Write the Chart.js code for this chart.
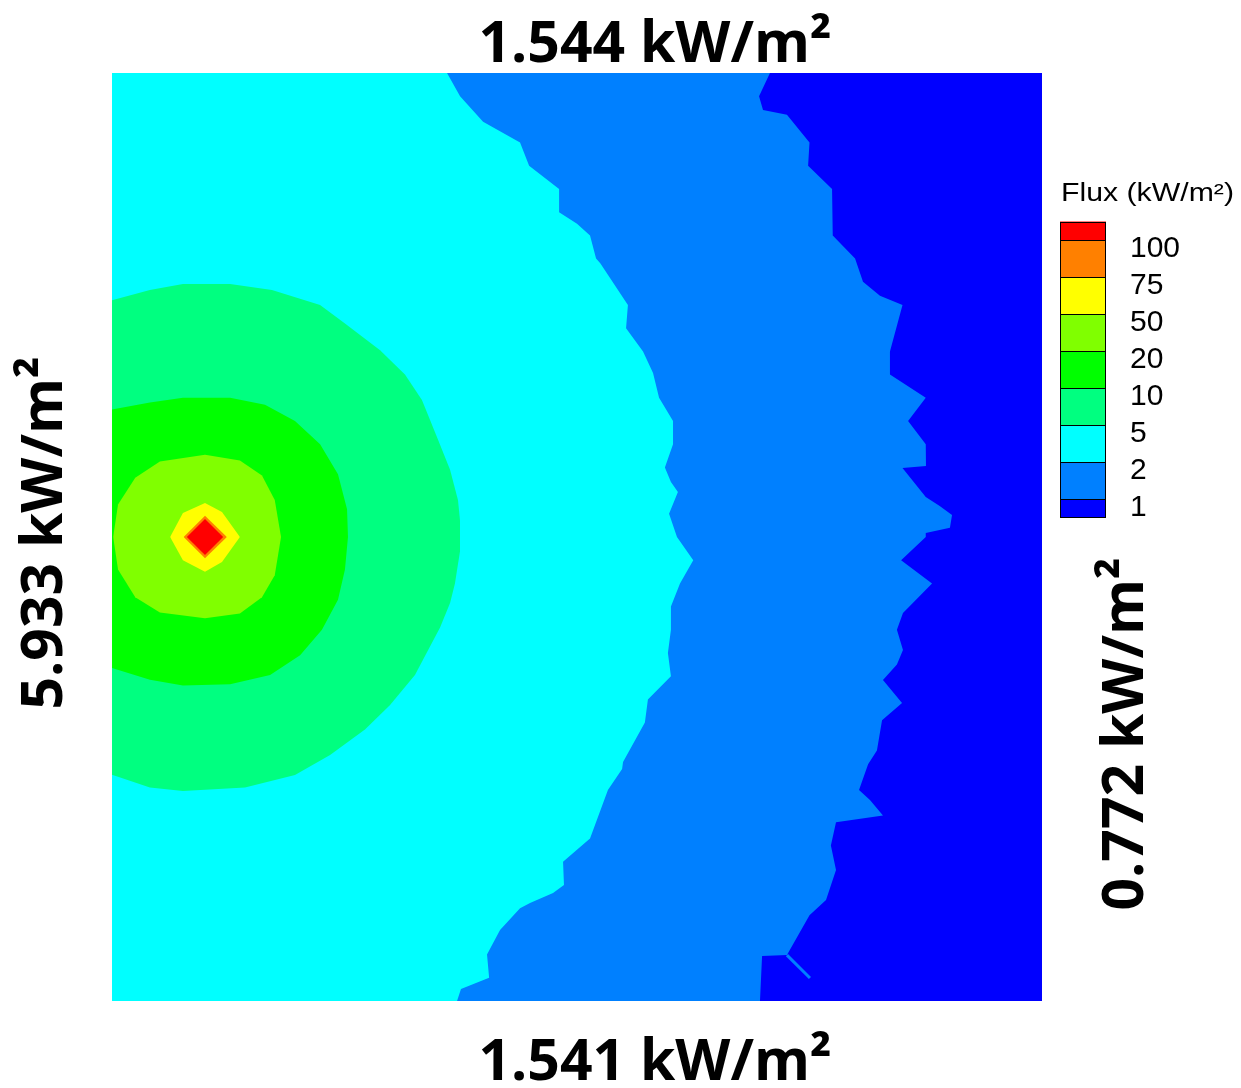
<!DOCTYPE html>
<html>
<head>
<meta charset="utf-8">
<title>Flux (kW/m²)</title>
<style>
  html, body { margin: 0; padding: 0; background: #ffffff; }
  canvas { display: block; }
</style>
<script src="https://cdn.jsdelivr.net/npm/chart.js@4.4.1/dist/chart.umd.min.js"></script>
</head>
<body>
<canvas id="fluxMap" width="1241" height="1088"></canvas>
<script>
// Contour levels (kW/m²) and the fill colour of each band, lowest band first
const fluxLevels = [1, 2, 5, 10, 20, 50, 75, 100];
const bandColors = ['#0000FF', '#0080FF', '#00FFFF', '#00FF80', '#00FF00', '#80FF00', '#FFFF00', '#FF8000', '#FF0000'];

// Average flux on each edge of the target plane
const labelTop = '1.544 kW/m²';
const labelBottom = '1.541 kW/m²';
const labelLeft = '5.933 kW/m²';
const labelRight = '0.772 kW/m²';
const legendTitle = 'Flux (kW/m²)';

// Plane extent in mesh cells (source sits at x = 4, y = 20)
const domainX = [0, 40];
const domainY = [0, 40];

// Iso-lines that run across the whole plane, [x, y] from top edge to bottom edge
const iso1 = [[28.3,40],[27.83,39],[28,38.4],[29.03,38.2],[30,37],[29.94,36],[30.97,35],[31,33],[31.96,32],[32.3,31],
  [33.03,30.4],[34,30],[33.46,28],[33.46,27],[35,26],[34.24,25],[35,24],[35.01,23.06],[34,22.97],[35,21.72],
  [35.6,21.34],[36.13,20.95],[36.04,20.4],[35,20.17],[35,20],[33.94,19],[35.27,18],[34.02,16.72],[33.76,16],[34.02,15.13],
  [33.76,14.5],[33.16,13.84],[33.98,12.84],[33.12,12.1],[32.9,10.8],[32.52,10.2],[32.13,9.1],[32.6,8.66],[33.16,8],[31.14,7.7],
  [30.92,6.7],[31.14,5.65],[30.71,4.35],[30,3.7],[29.03,1.98],[27.96,1.94],[27.87,0]];
const iso2 = [[14.41,40],[14.97,39],[15.96,37.9],[17.55,37],[17.94,36],[19.23,35],[19.23,34],[20,33.5],[20.56,33],[20.82,32],
  [21,31.8],[22.19,30],[22.11,29],[22.84,28],[23.27,27.07],[23.53,26],[24.13,25],[24.13,24],[23.78,23],[24.04,22.37],
  [24.34,21.94],[23.96,21],[24.3,20],[25,19],[24.43,18],[24.04,17],[24.04,16],[23.91,15],[24.04,14],[23.05,13],
  [22.92,12],[21.98,10.3],[21.94,10],[21.33,9.1],[20.56,7],[19.4,6],[19.44,5],[18.97,4.66],[17.98,4.22],[17.55,4],
  [16.69,3.06],[16.13,2],[16.22,1],[15.01,0.52],[14.84,0]];
// Narrow strip of the 1–2 band near the bottom edge
const iso1Strip = [[29.03,1.98],[30.02,0.99]];

// Closed iso-lines around the source, upper and lower halves, [x, y] from left to right
const iso5Upper = [[0,30.2],[1.63,30.65],[3.05,30.9],[5.08,30.9],[6.88,30.65],[8.95,30],[10.02,29.2],[11.53,28.05],[12.6,27],[13.33,25.9],[13.98,24.3],[14.54,22.9],[14.88,21.6],[14.97,20.7]];
const iso5Lower = [[0,9.75],[1.63,9.2],[3.05,9.05],[5.72,9.2],[7.87,9.74],[9.38,10.6],[10.88,11.7],[11.96,12.76],[13.03,14.05],[14.11,16.1],[14.54,17.16],[14.75,18],[14.97,19.4]];
const iso10Upper = [[0,25.5],[1.63,25.8],[3.05,26],[5.08,26],[6.58,25.7],[7.87,25],[8.95,24],[9.72,22.7],[10.11,21.2],[10.15,20]];
const iso10Lower = [[0,14.35],[1.63,13.85],[3.05,13.6],[5.08,13.65],[6.8,14.05],[8.09,14.9],[9.03,16],[9.72,17.3],[10.02,18.6],[10.15,20]];
const iso20Upper = [[0.05,20],[0.26,21.4],[1,22.55],[2.06,23.25],[4,23.55],[5.5,23.3],[6.45,22.65],[7,21.6],[7.27,20]];
const iso20Lower = [[0.05,20],[0.26,18.6],[1,17.4],[2.06,16.75],[4,16.5],[5.5,16.7],[6.45,17.4],[7,18.35],[7.27,20]];
const iso50Upper = [[2.5,20],[3.05,21.03],[4,21.47],[4.73,21.08],[5.5,20]];
const iso50Lower = [[2.5,20],[3.05,19],[4,18.5],[4.73,18.92],[5.5,20]];
const iso75Upper = [[3.08,20],[4,20.92],[4.94,20]];
const iso75Lower = [[3.08,20],[4,19.08],[4.94,20]];
const iso100Upper = [[3.22,20],[4,20.78],[4.78,20]];
const iso100Lower = [[3.22,20],[4,19.22],[4.78,20]];

const toPoints = pts => pts.map(([x, y]) => ({ x, y }));

const datasets = [];
let layer = 100;

// Band below the lowest level: right edge filled back to the left edge
function addEdgeFill(points, color) {
  datasets.push({
    data: toPoints(points), indexAxis: 'y', fill: { value: domainX[0] },
    backgroundColor: color, borderWidth: 0, pointRadius: 0, order: layer--
  });
}
// Closed band: upper half filled down to its lower half
function addClosedFill(upper, lower, color) {
  const order = layer--;
  datasets.push({
    data: toPoints(upper), fill: '+1',
    backgroundColor: color, borderWidth: 0, pointRadius: 0, order
  });
  datasets.push({
    data: toPoints(lower), fill: false,
    backgroundColor: color, borderWidth: 0, pointRadius: 0, order
  });
}

addEdgeFill([[domainX[1], domainY[1]], [domainX[1], domainY[0]]], bandColors[0]);
addEdgeFill(iso1, bandColors[1]);
addEdgeFill(iso2, bandColors[2]);
addClosedFill(iso5Upper, iso5Lower, bandColors[3]);
addClosedFill(iso10Upper, iso10Lower, bandColors[4]);
addClosedFill(iso20Upper, iso20Lower, bandColors[5]);
addClosedFill(iso50Upper, iso50Lower, bandColors[6]);
addClosedFill(iso75Upper, iso75Lower, bandColors[7]);
addClosedFill(iso100Upper, iso100Lower, bandColors[8]);
datasets.push({
  data: toPoints(iso1Strip), fill: false, borderColor: bandColors[1], borderWidth: 3,
  pointRadius: 0, order: layer--
});

// Colour bar, legend title and edge labels
const annotations = {
  id: 'annotations',
  afterDraw(chart) {
    const ctx = chart.ctx;
    ctx.save();

    // colour bar: half bands at both ends, full bands between level lines
    const barX = 1060, barW = 46, barTop = 221.5, step = 37;
    const levelsDown = fluxLevels.slice().reverse();
    const colorsDown = bandColors.slice().reverse();
    const firstLine = barTop + 18.5;
    const edges = [barTop];
    levelsDown.forEach((_, i) => edges.push(firstLine + i * step));
    edges.push(edges[edges.length - 1] + 18.5);
    colorsDown.forEach((c, i) => {
      ctx.fillStyle = c;
      ctx.fillRect(barX, edges[i], barW, edges[i + 1] - edges[i]);
    });
    ctx.strokeStyle = '#000000';
    ctx.lineWidth = 1;
    ctx.strokeRect(barX + 0.5, Math.round(barTop) + 0.5, barW - 1, Math.round(edges[edges.length - 1] - barTop) - 1);
    ctx.beginPath();
    for (let i = 1; i < edges.length - 1; i++) {
      const y = Math.round(edges[i]) + 0.5;
      ctx.moveTo(barX, y);
      ctx.lineTo(barX + barW, y);
    }
    ctx.stroke();

    ctx.fillStyle = '#000000';
    ctx.textAlign = 'left';
    ctx.textBaseline = 'alphabetic';
    ctx.font = '30px "Liberation Sans", Arial, sans-serif';
    levelsDown.forEach((v, i) => {
      ctx.fillText(String(v), 1130, Math.round(edges[i + 1]) + 17);
    });

    // legend title, slightly widened
    ctx.font = '26px "Liberation Sans", Arial, sans-serif';
    const tw = ctx.measureText(legendTitle).width;
    ctx.save();
    ctx.translate(1061, 201);
    ctx.scale(173 / tw, 1);
    ctx.fillText(legendTitle, 0, 0);
    ctx.restore();

    // edge labels
    ctx.font = 'bold 57px "Open Sans", "DejaVu Sans", sans-serif';
    ctx.textAlign = 'center';
    ctx.fillText(labelTop, 655, 62);
    ctx.fillText(labelBottom, 655, 1080);
    ctx.save();
    ctx.translate(62, 533);
    ctx.rotate(-Math.PI / 2);
    ctx.fillText(labelLeft, 0, 0);
    ctx.restore();
    ctx.save();
    ctx.translate(1143, 734);
    ctx.rotate(-Math.PI / 2);
    ctx.fillText(labelRight, 0, 0);
    ctx.restore();

    ctx.restore();
  }
};

new Chart(document.getElementById('fluxMap'), {
  type: 'line',
  data: { datasets },
  options: {
    responsive: false,
    devicePixelRatio: 1,
    animation: false,
    events: [],
    layout: { padding: { left: 112, top: 73, right: 199, bottom: 87 } },
    scales: {
      x: { type: 'linear', min: domainX[0], max: domainX[1], display: false },
      y: { type: 'linear', min: domainY[0], max: domainY[1], display: false }
    },
    plugins: {
      legend: { display: false },
      tooltip: { enabled: false },
      title: { display: false }
    },
    elements: { line: { tension: 0 } }
  },
  plugins: [annotations]
});
</script>
</body>
</html>
